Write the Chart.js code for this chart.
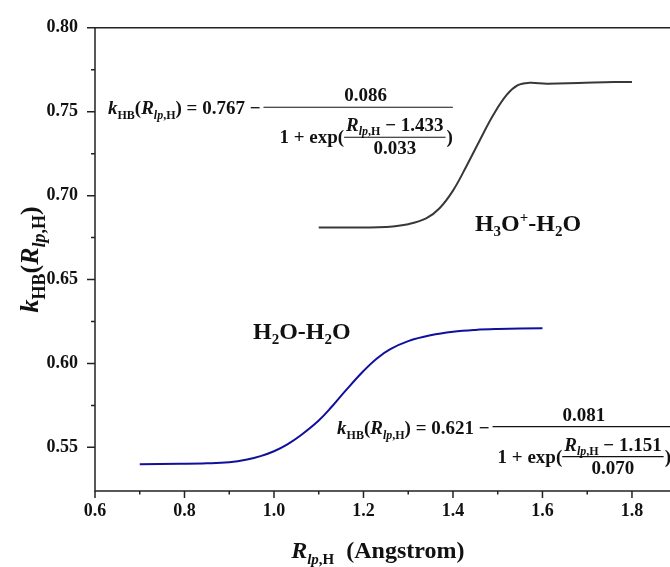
<!DOCTYPE html>
<html>
<head>
<meta charset="utf-8">
<script src="https://cdn.jsdelivr.net/npm/chart.js@4.4.0/dist/chart.umd.min.js"></script>
<style>
  html, body { margin: 0; padding: 0; background: #fff; }
</style>
</head>
<body>
<canvas id="chart" width="670" height="567"></canvas>
<script>
// H2O-H2O curve (blue)
const waterX = [0.70, 0.79, 0.85, 0.90, 0.94, 0.97, 1.00, 1.03, 1.06, 1.10, 1.13, 1.16, 1.20, 1.23, 1.26, 1.30, 1.35, 1.40, 1.45, 1.50, 1.60];
const waterY = [0.540, 0.5402, 0.5405, 0.5412, 0.5428, 0.5448, 0.5477, 0.5518, 0.5572, 0.5660, 0.5745, 0.5838, 0.5955, 0.6030, 0.6085, 0.6133, 0.6168, 0.6189, 0.6200, 0.6205, 0.6210];

// H3O+-H2O curve (dark grey)
const hydroniumX = [1.10, 1.20, 1.25, 1.30, 1.34, 1.37, 1.40, 1.43, 1.46, 1.49, 1.52, 1.545, 1.57, 1.61, 1.68, 1.76, 1.80];
const hydroniumY = [0.681, 0.681, 0.6813, 0.6830, 0.6864, 0.6925, 0.7030, 0.7175, 0.7330, 0.7480, 0.7600, 0.7658, 0.7672, 0.7667, 0.7671, 0.7677, 0.7677];

const xTicks = [0.6, 0.8, 1.0, 1.2, 1.4, 1.6, 1.8];
const xMinor = [0.7, 0.9, 1.1, 1.3, 1.5, 1.7];
const yTicks = [0.55, 0.60, 0.65, 0.70, 0.75, 0.80];
const yMinor = [0.575, 0.625, 0.675, 0.725, 0.775];

const FONT = '"Liberation Serif", "Times New Roman", serif';
const INK = '#111';

function setFont(ctx, size, italic) {
    ctx.font = (italic ? 'italic ' : '') + 'bold ' + size + 'px ' + FONT;
}
function T(t, s, i, dy) {
    return { t: t, s: s, i: !!i, dy: dy || 0 };
}
function runWidth(ctx, parts) {
    let w = 0;
    parts.forEach(p => { setFont(ctx, p.s, p.i); w += ctx.measureText(p.t).width; });
    return w;
}
function drawRun(ctx, x, y, parts) {
    parts.forEach(p => {
        setFont(ctx, p.s, p.i);
        ctx.fillText(p.t, x, y + p.dy);
        x += ctx.measureText(p.t).width;
    });
    return x;
}
function kParts(S, s) {
    const d = Math.round(S * 0.25);
    return [T('k', S, 1), T('HB', s, 0, d), T('(', S), T('R', S, 1), T('lp', s, 1, d), T(',H', s, 0, d), T(')', S)];
}
function hline(ctx, x0, x1, y) {
    ctx.beginPath();
    ctx.moveTo(x0, y);
    ctx.lineTo(x1, y);
    ctx.stroke();
}

// k_HB = c0 - num / (1 + exp((R - mu) / den))
function drawFormula(ctx, x, base, c0, num, mu, den, pad) {
    const S = 19, s = 12;
    const axis = base - 7;
    const cx = drawRun(ctx, x, base, kParts(S, s).concat([T(' = ' + c0 + ' \u2212', S)]));
    const barStart = cx + 3;
    const lead = [T('1 + exp(', S)];
    const top = [T('R', S, 1), T('lp', s, 1, 4), T(',H', s, 0, 4), T(' \u2212 ' + mu, S)];
    const dx = barStart + pad;
    const ib0 = dx + runWidth(ctx, lead);
    const ib1 = ib0 + runWidth(ctx, top) + 4;
    const inner = axis + 30;
    setFont(ctx, S, false);
    const closeW = ctx.measureText(')').width;
    ctx.strokeStyle = INK;
    ctx.lineWidth = 1.2;
    hline(ctx, barStart, ib1 + closeW + 1, axis);
    hline(ctx, ib0, ib1, inner);
    const numW = ctx.measureText(num).width;
    ctx.fillText(num, (dx + ib1 + closeW) / 2 - numW / 2, axis - 6);
    drawRun(ctx, dx, inner + 6, lead);
    drawRun(ctx, ib0 + 2, inner - 6, top);
    setFont(ctx, S, false);
    const denW = ctx.measureText(den).width;
    ctx.fillText(den, (ib0 + ib1) / 2 - denW / 2, inner + 17);
    ctx.fillText(')', ib1 + 1, inner + 6);
}

const decorations = {
    id: 'decorations',
    afterDraw(chart) {
        const ctx = chart.ctx;
        const xs = chart.scales.x, ys = chart.scales.y;
        const a = chart.chartArea;
        ctx.save();
        ctx.fillStyle = INK;
        ctx.strokeStyle = '#222';
        ctx.lineWidth = 1.5;

        // frame: left, bottom, top
        ctx.beginPath();
        ctx.moveTo(a.right, a.top);
        ctx.lineTo(a.left, a.top);
        ctx.lineTo(a.left, a.bottom);
        ctx.lineTo(a.right, a.bottom);
        ctx.stroke();

        // ticks, outward
        ctx.beginPath();
        xTicks.forEach(v => { const px = xs.getPixelForValue(v); ctx.moveTo(px, a.bottom); ctx.lineTo(px, a.bottom + 7); });
        xMinor.forEach(v => { const px = xs.getPixelForValue(v); ctx.moveTo(px, a.bottom); ctx.lineTo(px, a.bottom + 3.5); });
        yTicks.forEach(v => { const py = ys.getPixelForValue(v); ctx.moveTo(a.left, py); ctx.lineTo(a.left - 8, py); });
        yMinor.forEach(v => { const py = ys.getPixelForValue(v); ctx.moveTo(a.left, py); ctx.lineTo(a.left - 4, py); });
        ctx.stroke();

        ctx.textBaseline = 'alphabetic';

        // x axis title
        const xt = [T('R', 24, 1), T('lp', 15, 1, 6), T(',H', 15, 0, 6), T('  (Angstrom)', 24)];
        const xc = xs.getPixelForValue(1.232);
        drawRun(ctx, xc - runWidth(ctx, xt) / 2, 558, xt);

        // y axis title, rotated
        const yt = kParts(26, 18);
        ctx.save();
        ctx.translate(38, (a.top + a.bottom) / 2);
        ctx.rotate(-Math.PI / 2);
        drawRun(ctx, -runWidth(ctx, yt) / 2, 0, yt);
        ctx.restore();

        // fitted formulas
        drawFormula(ctx, xs.getPixelForValue(0.629), ys.getPixelForValue(0.7485), '0.767', '0.086', '1.433', '0.033', 16);
        drawFormula(ctx, xs.getPixelForValue(1.141), ys.getPixelForValue(0.5582), '0.621', '0.081', '1.151', '0.070', 5);

        // curve labels
        drawRun(ctx, xs.getPixelForValue(0.953), ys.getPixelForValue(0.6147),
            [T('H', 24), T('2', 15, 0, 5), T('O-H', 24), T('2', 15, 0, 5), T('O', 24)]);
        drawRun(ctx, xs.getPixelForValue(1.449), ys.getPixelForValue(0.679),
            [T('H', 24), T('3', 15, 0, 5), T('O', 24), T('+', 15, 0, -9), T('-H', 24), T('2', 15, 0, 5), T('O', 24)]);
        ctx.restore();
    }
};

const toPoints = (xv, yv) => xv.map((x, i) => ({ x: x, y: yv[i] }));

new Chart(document.getElementById('chart'), {
    type: 'line',
    data: {
        datasets: [{
            label: 'H2O-H2O',
            data: toPoints(waterX, waterY),
            borderColor: '#10109c',
            borderWidth: 2,
            pointRadius: 0,
            tension: 0.4
        }, {
            label: 'H3O+-H2O',
            data: toPoints(hydroniumX, hydroniumY),
            borderColor: '#383838',
            borderWidth: 2,
            pointRadius: 0,
            tension: 0.4
        }]
    },
    options: {
        responsive: false,
        animation: false,
        devicePixelRatio: 1,
        layout: { padding: { top: 23, right: 0, left: 0, bottom: 0 } },
        plugins: { legend: { display: false }, tooltip: { enabled: false } },
        scales: {
            x: {
                type: 'linear',
                min: 0.6,
                max: 1.885,
                afterBuildTicks: s => { s.ticks = xTicks.map(v => ({ value: v })); },
                afterFit: s => { s.height = 76; },
                grid: { display: false, drawTicks: false },
                border: { display: false },
                ticks: {
                    padding: 10,
                    color: INK,
                    maxRotation: 0,
                    font: { family: FONT, size: 18, weight: 'bold' },
                    callback: v => v.toFixed(1)
                }
            },
            y: {
                type: 'linear',
                min: 0.524,
                max: 0.80,
                afterBuildTicks: s => { s.ticks = yTicks.map(v => ({ value: v })); },
                afterFit: s => { s.width = 95; },
                grid: { display: false, drawTicks: false },
                border: { display: false },
                ticks: {
                    padding: 17,
                    color: INK,
                    font: { family: FONT, size: 18, weight: 'bold' },
                    callback: v => v.toFixed(2)
                }
            }
        }
    },
    plugins: [decorations]
});
</script>
</body>
</html>
